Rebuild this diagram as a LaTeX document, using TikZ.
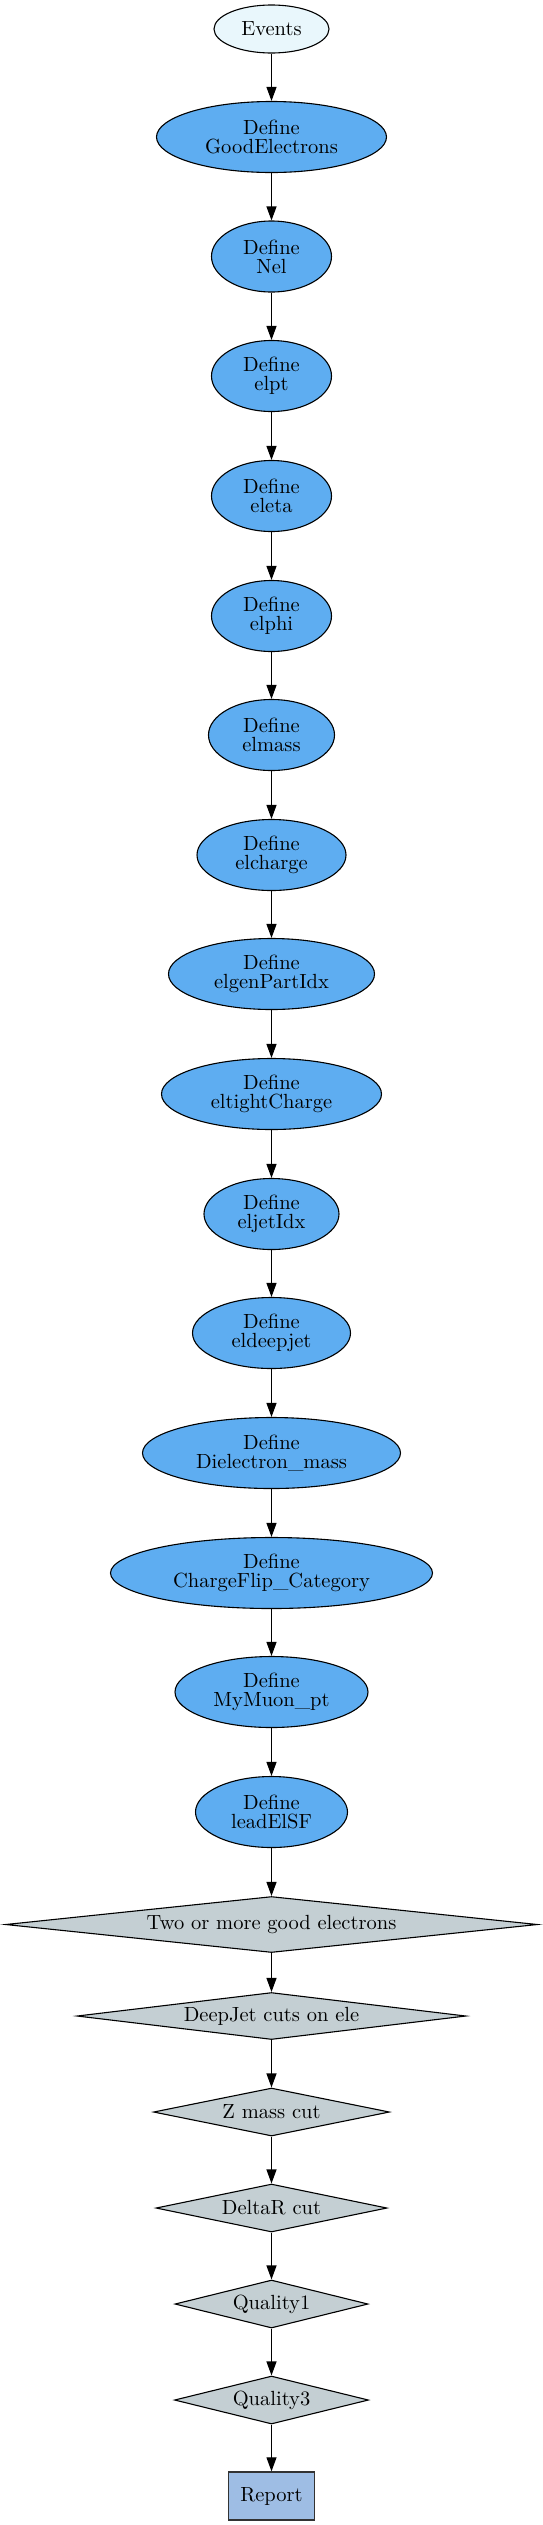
\documentclass[tikz,border=0pt]{standalone}
\usetikzlibrary{shapes.geometric,arrows.meta}
\font\lmtenfont="[lmroman10-regular]:mapping=tex-text" at 20.5pt
\newcommand{\nodetextfont}{\lmtenfont\baselineskip=19.2pt\relax}
\definecolor{evcol}{HTML}{E9F7FC}
\definecolor{defcol}{HTML}{5EADF1}
\definecolor{cutcol}{HTML}{C4CFD3}
\definecolor{repcol}{HTML}{9EBDE4}
\tikzset{
  base/.style={font=\nodetextfont, align=center, inner sep=0pt, line width=1.1pt},
  evnode/.style={base, ellipse, draw=black, fill=evcol, minimum height=48pt},
  defnode/.style={base, ellipse, draw=black, fill=defcol, minimum height=71pt},
  cutnode/.style={base, diamond, draw=black, fill=cutcol},
  repnode/.style={base, rectangle, draw=black!80, fill=repcol, line width=1.4pt, minimum width=86pt, minimum height=48pt},
  flow/.style={-{Triangle[length=14pt,width=10pt]}, line width=1.1pt, draw=black}
}
\begin{document}
\begin{tikzpicture}[x=1pt,y=-1pt]
\useasboundingbox (0,0) rectangle (543,2525);
\def\cx{271.5}
\node[evnode, minimum width=115pt] (ev) at (\cx,29) {Events};
\node[defnode, minimum width=230pt] (ge) at (\cx,137) {Define\\GoodElectrons};
\node[defnode, minimum width=120pt] (nel) at (\cx,256.5) {Define\\Nel};
\node[defnode, minimum width=120pt] (pt) at (\cx,376) {Define\\elpt};
\node[defnode, minimum width=120pt] (eta) at (\cx,496) {Define\\eleta};
\node[defnode, minimum width=120pt] (phi) at (\cx,616) {Define\\elphi};
\node[defnode, minimum width=126pt] (mass) at (\cx,735) {Define\\elmass};
\node[defnode, minimum width=149pt] (chg) at (\cx,855) {Define\\elcharge};
\node[defnode, minimum width=206pt] (gen) at (\cx,974) {Define\\elgenPartIdx};
\node[defnode, minimum width=220pt] (tc) at (\cx,1094) {Define\\eltightCharge};
\node[defnode, minimum width=135pt] (jet) at (\cx,1214) {Define\\eljetIdx};
\node[defnode, minimum width=158pt] (dj) at (\cx,1333) {Define\\eldeepjet};
\node[defnode, minimum width=258pt] (diel) at (\cx,1453) {Define\\Dielectron\_mass};
\node[defnode, minimum width=322pt] (cf) at (\cx,1573) {Define\\ChargeFlip\_Category};
\node[defnode, minimum width=193pt] (mu) at (\cx,1692) {Define\\MyMuon\_pt};
\node[defnode, minimum width=152pt] (sf) at (\cx,1812) {Define\\leadElSF};
\node[cutnode, aspect=9.5, minimum width=532pt, minimum height=56pt] (two) at (\cx,1924.5) {Two or more good electrons};
\node[cutnode, aspect=8.3, minimum width=389pt, minimum height=47pt] (djc) at (\cx,2016) {DeepJet cuts on ele};
\node[cutnode, aspect=4.9, minimum width=236pt, minimum height=48pt] (zm) at (\cx,2112) {Z mass cut};
\node[cutnode, aspect=4.8, minimum width=231pt, minimum height=48pt] (dr) at (\cx,2208) {DeltaR cut};
\node[cutnode, aspect=4, minimum width=193pt, minimum height=48pt] (q1) at (\cx,2304) {Quality1};
\node[cutnode, aspect=4, minimum width=194pt, minimum height=48pt] (q3) at (\cx,2400) {Quality3};
\node[repnode] (rep) at (\cx,2496) {Report};
\draw[flow] (ev) -- (ge);
\draw[flow] (ge) -- (nel);
\draw[flow] (nel) -- (pt);
\draw[flow] (pt) -- (eta);
\draw[flow] (eta) -- (phi);
\draw[flow] (phi) -- (mass);
\draw[flow] (mass) -- (chg);
\draw[flow] (chg) -- (gen);
\draw[flow] (gen) -- (tc);
\draw[flow] (tc) -- (jet);
\draw[flow] (jet) -- (dj);
\draw[flow] (dj) -- (diel);
\draw[flow] (diel) -- (cf);
\draw[flow] (cf) -- (mu);
\draw[flow] (mu) -- (sf);
\draw[flow] (sf) -- (two);
\draw[flow] (two) -- (djc);
\draw[flow] (djc) -- (zm);
\draw[flow] (zm) -- (dr);
\draw[flow] (dr) -- (q1);
\draw[flow] (q1) -- (q3);
\draw[flow] (q3) -- (rep);
\end{tikzpicture}
\end{document}
